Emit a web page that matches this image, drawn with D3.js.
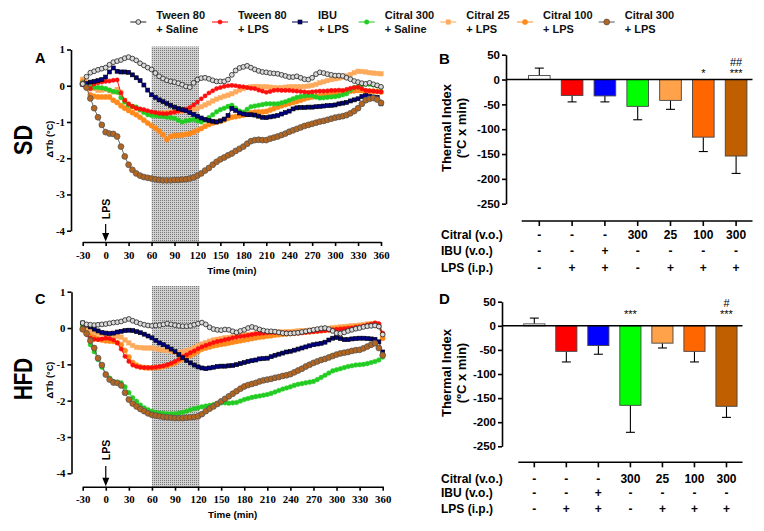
<!DOCTYPE html>
<html><head><meta charset="utf-8">
<script src="https://cdn.jsdelivr.net/npm/d3@7"></script>
<style>body{margin:0;background:#fff}svg{display:block}</style>
</head><body>
<svg id="c" width="764" height="531"></svg>
<script>
// ---------------- DATA ----------------
const times = [-30,-25,-20,-15,-10,-5,0,5,10,15,20,25,30,35,40,45,50,55,60,65,70,75,80,85,90,95,100,105,110,115,120,125,130,135,140,145,150,155,160,165,170,175,180,185,190,195,200,205,210,215,220,225,230,235,240,245,250,255,260,265,270,275,280,285,290,295,300,305,310,315,320,325,330,335,340,345,350,355,360];
const legendLabels = [["Tween 80","+ Saline"],["Tween 80","+ LPS"],["IBU","+ LPS"],["Citral 300","+ Saline"],["Citral 25","+ LPS"],["Citral 100","+ LPS"],["Citral 300","+ LPS"]];
const xTickValues = [-30,0,30,60,90,120,150,180,210,240,270,300,330,360];
const yTickValues = [1,0,-1,-2,-3,-4];
const barTickValues = [50,0,-50,-100,-150,-200,-250];

// SD panel A (ΔTb °C)
const sdSaline = [0.05,0.25,0.36,0.40,0.44,0.47,0.50,0.58,0.65,0.68,0.71,0.76,0.79,0.75,0.70,0.62,0.56,0.50,0.45,0.35,0.26,0.20,0.15,0.12,0.10,0.07,0.03,-0.02,-0.04,0.08,0.17,0.21,0.22,0.19,0.15,0.12,0.12,0.12,0.17,0.30,0.42,0.49,0.52,0.55,0.50,0.45,0.41,0.38,0.37,0.35,0.34,0.33,0.30,0.27,0.24,0.24,0.26,0.22,0.18,0.17,0.22,0.32,0.37,0.35,0.32,0.30,0.28,0.28,0.27,0.22,0.18,0.13,0.10,0.07,0.05,0.08,0.04,0.01,-0.03];
const sdTweenLps = [0.05,-0.05,-0.08,0.05,0.08,0.10,0.12,0.13,0.15,0.16,-0.20,-0.40,-0.50,-0.57,-0.62,-0.64,-0.66,-0.69,-0.72,-0.74,-0.76,-0.77,-0.77,-0.75,-0.73,-0.70,-0.68,-0.65,-0.60,-0.53,-0.45,-0.36,-0.28,-0.20,-0.14,-0.08,-0.05,-0.02,0.00,0.01,0.00,-0.02,-0.03,-0.05,-0.07,-0.08,-0.12,-0.15,-0.18,-0.16,-0.13,-0.12,-0.13,-0.13,-0.13,-0.14,-0.15,-0.16,-0.17,-0.18,-0.17,-0.16,-0.15,-0.15,-0.14,-0.13,-0.13,-0.12,-0.13,-0.10,-0.07,-0.05,-0.04,-0.08,-0.13,-0.14,-0.15,-0.16,-0.17];
const sdIbu = [0.03,0.06,0.10,0.12,0.14,0.17,0.24,0.38,0.49,0.40,0.38,0.38,0.37,0.30,0.22,0.14,0.02,-0.12,-0.25,-0.32,-0.39,-0.44,-0.49,-0.54,-0.59,-0.63,-0.66,-0.69,-0.74,-0.79,-0.84,-0.89,-0.93,-0.96,-0.98,-1.00,-0.97,-0.92,-0.82,-0.63,-0.68,-0.75,-0.78,-0.80,-0.80,-0.81,-0.84,-0.87,-0.88,-0.86,-0.84,-0.82,-0.78,-0.74,-0.70,-0.64,-0.61,-0.60,-0.60,-0.59,-0.59,-0.58,-0.57,-0.56,-0.55,-0.54,-0.53,-0.50,-0.48,-0.46,-0.42,-0.39,-0.36,-0.30,-0.27,-0.29,-0.31,-0.32,-0.50];
const sdCitral300Sal = [0.08,0.02,-0.04,-0.05,-0.05,-0.06,-0.08,-0.12,-0.16,-0.18,-0.33,-0.45,-0.54,-0.57,-0.59,-0.66,-0.74,-0.80,-0.82,-0.83,-0.84,-0.85,-0.87,-0.88,-0.90,-0.95,-1.00,-0.97,-0.95,-0.93,-0.97,-1.00,-0.95,-0.88,-0.80,-0.72,-0.66,-0.62,-0.57,-0.54,-0.62,-0.70,-0.73,-0.65,-0.58,-0.56,-0.54,-0.52,-0.50,-0.50,-0.50,-0.50,-0.47,-0.44,-0.40,-0.36,-0.32,-0.30,-0.28,-0.27,-0.27,-0.31,-0.34,-0.33,-0.32,-0.31,-0.30,-0.28,-0.25,-0.22,-0.12,-0.05,-0.03,0.02,0.05,0.04,0.02,0.00,-0.04];
const sdCitral25 = [0.18,0.10,0.02,-0.08,-0.13,-0.12,-0.10,-0.14,-0.17,-0.10,-0.18,-0.40,-0.52,-0.58,-0.63,-0.67,-0.70,-0.74,-0.76,-0.77,-0.76,-0.75,-0.74,-0.73,-0.72,-0.71,-0.70,-0.68,-0.66,-0.64,-0.62,-0.58,-0.53,-0.48,-0.42,-0.37,-0.33,-0.29,-0.26,-0.22,-0.17,-0.12,-0.08,-0.05,-0.03,-0.02,-0.02,-0.03,-0.03,-0.04,-0.05,-0.06,-0.05,-0.04,-0.03,-0.03,-0.03,-0.03,-0.02,-0.01,0.01,0.04,0.08,0.11,0.14,0.17,0.19,0.21,0.24,0.27,0.31,0.36,0.40,0.39,0.38,0.36,0.35,0.34,0.33];
const sdCitral100 = [0.12,-0.05,-0.25,-0.29,-0.31,-0.31,-0.31,-0.31,-0.40,-0.46,-0.55,-0.62,-0.68,-0.74,-0.80,-0.87,-0.95,-1.03,-1.10,-1.17,-1.25,-1.35,-1.48,-1.40,-1.37,-1.37,-1.36,-1.34,-1.32,-1.28,-1.23,-1.18,-1.12,-1.07,-1.03,-1.00,-0.98,-0.94,-0.90,-0.87,-0.85,-0.83,-0.81,-0.78,-0.75,-0.73,-0.72,-0.72,-0.71,-0.67,-0.63,-0.59,-0.55,-0.52,-0.49,-0.46,-0.43,-0.40,-0.36,-0.33,-0.31,-0.30,-0.28,-0.27,-0.25,-0.23,-0.22,-0.20,-0.18,-0.17,-0.15,-0.14,-0.13,-0.13,-0.14,-0.15,-0.15,-0.16,-0.17];
const sdCitral300Lps = [0.05,-0.05,-0.35,-0.62,-0.87,-1.08,-1.28,-1.32,-1.33,-1.40,-1.68,-1.95,-2.18,-2.32,-2.42,-2.48,-2.52,-2.54,-2.56,-2.58,-2.60,-2.61,-2.61,-2.61,-2.60,-2.60,-2.59,-2.58,-2.56,-2.53,-2.48,-2.42,-2.34,-2.27,-2.18,-2.10,-2.03,-1.98,-1.92,-1.87,-1.80,-1.74,-1.68,-1.60,-1.53,-1.50,-1.49,-1.50,-1.50,-1.46,-1.43,-1.40,-1.36,-1.32,-1.27,-1.23,-1.19,-1.15,-1.11,-1.08,-1.05,-1.02,-0.99,-0.97,-0.94,-0.91,-0.88,-0.86,-0.84,-0.81,-0.76,-0.70,-0.62,-0.50,-0.40,-0.36,-0.34,-0.38,-0.47];

// HFD panel C (ΔTb °C)
const hfdSaline = [0.14,0.10,0.09,0.08,0.09,0.10,0.11,0.13,0.15,0.16,0.18,0.22,0.25,0.20,0.16,0.12,0.09,0.07,0.06,0.07,0.08,0.10,0.12,0.10,0.08,0.06,0.05,0.05,0.06,0.09,0.12,0.15,0.10,0.02,-0.03,-0.05,-0.06,-0.04,-0.05,-0.09,-0.12,-0.08,-0.05,0.00,0.03,0.00,-0.04,-0.07,-0.09,-0.09,-0.10,-0.12,-0.14,-0.15,-0.15,-0.14,-0.13,-0.11,-0.09,-0.07,-0.05,-0.03,-0.01,0.00,-0.03,-0.08,-0.14,-0.15,-0.12,-0.08,-0.05,-0.02,0.00,0.03,0.05,0.06,0.07,0.04,-0.18];
const hfdTweenLps = [0.00,-0.18,-0.28,-0.31,-0.32,-0.30,-0.28,-0.29,-0.33,-0.41,-0.58,-0.78,-0.92,-1.02,-1.06,-1.08,-1.09,-1.09,-1.09,-1.08,-1.06,-1.04,-1.01,-0.97,-0.92,-0.86,-0.79,-0.74,-0.68,-0.63,-0.57,-0.52,-0.48,-0.44,-0.40,-0.37,-0.35,-0.32,-0.30,-0.27,-0.25,-0.23,-0.22,-0.20,-0.18,-0.16,-0.15,-0.14,-0.13,-0.12,-0.12,-0.12,-0.13,-0.13,-0.13,-0.14,-0.14,-0.13,-0.12,-0.11,-0.10,-0.09,-0.08,-0.07,-0.06,-0.05,-0.04,-0.03,-0.02,-0.01,0.00,0.02,0.03,0.05,0.08,0.11,0.14,0.12,-0.14];
const hfdIbu = [0.14,0.08,0.03,-0.03,-0.08,-0.12,-0.14,-0.15,-0.14,-0.11,-0.09,-0.07,-0.06,-0.07,-0.10,-0.13,-0.17,-0.22,-0.27,-0.34,-0.41,-0.46,-0.52,-0.58,-0.65,-0.73,-0.82,-0.89,-0.96,-1.02,-1.07,-1.10,-1.12,-1.10,-1.08,-1.06,-1.05,-1.05,-1.04,-1.03,-1.01,-0.98,-0.95,-0.92,-0.90,-0.88,-0.85,-0.84,-0.83,-0.79,-0.75,-0.72,-0.69,-0.66,-0.64,-0.61,-0.58,-0.55,-0.52,-0.49,-0.46,-0.44,-0.42,-0.39,-0.33,-0.28,-0.26,-0.29,-0.32,-0.32,-0.30,-0.29,-0.28,-0.28,-0.29,-0.30,-0.31,-0.38,-0.66];
const hfdCitral300Sal = [0.05,-0.15,-0.46,-0.65,-0.87,-1.08,-1.28,-1.38,-1.47,-1.50,-1.51,-1.62,-1.78,-1.92,-2.02,-2.12,-2.20,-2.25,-2.29,-2.32,-2.34,-2.35,-2.36,-2.36,-2.36,-2.34,-2.32,-2.29,-2.25,-2.22,-2.20,-2.17,-2.15,-2.13,-2.11,-2.08,-2.06,-2.06,-2.07,-2.06,-2.05,-2.01,-1.97,-1.94,-1.91,-1.89,-1.87,-1.85,-1.83,-1.80,-1.76,-1.72,-1.68,-1.65,-1.62,-1.58,-1.55,-1.53,-1.51,-1.49,-1.47,-1.42,-1.36,-1.30,-1.24,-1.18,-1.15,-1.12,-1.09,-1.06,-1.04,-1.02,-1.01,-1.00,-0.98,-0.95,-0.92,-0.88,-0.80];
const hfdCitral25 = [0.00,-0.05,-0.09,-0.11,-0.14,-0.16,-0.18,-0.20,-0.22,-0.23,-0.25,-0.33,-0.41,-0.48,-0.53,-0.54,-0.55,-0.55,-0.55,-0.57,-0.60,-0.61,-0.62,-0.64,-0.66,-0.67,-0.66,-0.63,-0.59,-0.54,-0.49,-0.44,-0.40,-0.36,-0.33,-0.31,-0.29,-0.27,-0.26,-0.24,-0.22,-0.20,-0.19,-0.18,-0.17,-0.16,-0.15,-0.14,-0.14,-0.13,-0.12,-0.11,-0.11,-0.10,-0.10,-0.09,-0.08,-0.07,-0.07,-0.06,-0.06,-0.05,-0.04,-0.02,-0.01,0.01,0.02,0.03,0.04,0.05,0.06,0.07,0.08,0.09,0.11,0.12,0.13,0.08,-0.20];
const hfdCitral100 = [-0.05,-0.15,-0.22,-0.26,-0.30,-0.33,-0.35,-0.36,-0.37,-0.40,-0.46,-0.62,-0.80,-0.95,-1.03,-1.07,-1.09,-1.10,-1.10,-1.09,-1.08,-1.06,-1.03,-1.00,-0.96,-0.90,-0.85,-0.80,-0.76,-0.70,-0.64,-0.58,-0.55,-0.52,-0.49,-0.47,-0.45,-0.43,-0.41,-0.39,-0.37,-0.35,-0.33,-0.31,-0.29,-0.27,-0.25,-0.24,-0.22,-0.21,-0.19,-0.18,-0.17,-0.16,-0.15,-0.14,-0.13,-0.12,-0.11,-0.10,-0.09,-0.08,-0.07,-0.06,-0.05,-0.04,-0.03,-0.02,-0.01,0.00,0.01,0.03,0.04,0.06,0.08,0.09,0.10,0.05,-0.28];
const hfdCitral300Lps = [-0.03,-0.15,-0.35,-0.55,-0.83,-1.02,-1.28,-1.42,-1.50,-1.51,-1.58,-1.78,-1.97,-2.08,-2.16,-2.23,-2.29,-2.35,-2.39,-2.41,-2.43,-2.45,-2.46,-2.47,-2.48,-2.48,-2.48,-2.47,-2.46,-2.45,-2.43,-2.37,-2.29,-2.22,-2.16,-2.09,-2.02,-1.95,-1.88,-1.81,-1.74,-1.67,-1.61,-1.57,-1.54,-1.51,-1.47,-1.44,-1.42,-1.40,-1.37,-1.35,-1.32,-1.30,-1.27,-1.22,-1.17,-1.12,-1.06,-1.01,-0.96,-0.92,-0.88,-0.85,-0.81,-0.77,-0.73,-0.70,-0.68,-0.66,-0.63,-0.61,-0.60,-0.56,-0.51,-0.46,-0.42,-0.55,-0.75];

// Thermal index bars
const barMeansSD = [8,-32,-33,-54,-42,-116,-154];
const barErrSD = [15,13,12,27,18,29,35];
const barMeansHFD = [4,-53,-41,-165,-36,-53,-167];
const barErrHFD = [12,22,18,56,10,22,23];
const rowLabels = ["Citral (v.o.)","IBU (v.o.)","LPS (i.p.)"];
const citralRow = ["-","-","-","300","25","100","300"];
const ibuRow = ["-","-","+","-","-","-","-"];
const lpsRow = ["-","+","+","-","+","+","+"];
const starsSD = ["","","","","","*","***"];
const hashSD = ["","","","","","","##"];
const starsHFD = ["","","","***","","","***"];
const hashHFD = ["","","","","","","#"];

// ---------------- STYLE ----------------
const SANS = "'Liberation Sans', Arial, sans-serif";
const SERIF = "'Liberation Serif', 'Times New Roman', serif";
const styles = [
  {line:'#222', marker:'circle', r:2.4, fill:'#d9d9d9', stroke:'#222', sw:0.8},
  {line:'#ff0000', marker:'circle', r:2.1, fill:'#ff1010', stroke:'#ff0000', sw:0.5},
  {line:'#000060', marker:'square', r:2.0, fill:'#000080', stroke:'#000', sw:0.6},
  {line:'#20c020', marker:'circle', r:2.3, fill:'#22cc22', stroke:'#22cc22', sw:0.5},
  {line:'#fca85a', marker:'square', r:2.2, fill:'#fdaa5c', stroke:'#fdaa5c', sw:0.5},
  {line:'#ff8a1c', marker:'circle', r:2.6, fill:'#ff8a1c', stroke:'#ff8a1c', sw:0.5},
  {line:'#555', marker:'circle', r:2.9, fill:'#b5651d', stroke:'#555', sw:0.8}
];
const barColors = ['#ffffff','#ff0000','#0000ff','#00ff00','#ffa24a','#ff6600','#c05f00'];
const drawOrder = [4,5,3,1,2,6,0];

const svg = d3.select('#c');
const defs = svg.append('defs');
const pat = defs.append('pattern').attr('id','dots').attr('width',2).attr('height',2).attr('patternUnits','userSpaceOnUse');
pat.append('rect').attr('width',2).attr('height',2).attr('fill','#cfcfcf');
pat.append('rect').attr('width',1).attr('height',1).attr('fill','#7a7a7a');

function marker(g, s, cx, cy){
  if(s.marker==='circle'){
    g.append('circle').attr('cx',cx).attr('cy',cy).attr('r',s.r).attr('fill',s.fill).attr('stroke',s.stroke).attr('stroke-width',s.sw);
  } else {
    g.append('rect').attr('x',cx-s.r).attr('y',cy-s.r).attr('width',2*s.r).attr('height',2*s.r).attr('fill',s.fill).attr('stroke',s.stroke).attr('stroke-width',s.sw);
  }
}

// ---------------- LEGEND ----------------
const legX = [138.3,220,300,366.7,448.3,525,606.7];
legendLabels.forEach((lab,i)=>{
  const g = svg.append('g');
  const s = styles[i];
  g.append('line').attr('x1',legX[i]-8).attr('x2',legX[i]+8).attr('y1',22).attr('y2',22).attr('stroke',s.line).attr('stroke-width',1);
  marker(g, s, legX[i], 22);
  const t = g.append('text').attr('font-family',SANS).attr('font-weight','bold').attr('font-size',11).attr('fill','#111');
  t.append('tspan').attr('x',legX[i]+18).attr('y',19).text(lab[0]);
  t.append('tspan').attr('x',legX[i]+18).attr('y',33).text(lab[1]);
});

// ---------------- LINE PANELS ----------------
function linePanel(c){
  const x = d3.scaleLinear().domain([-30,360]).range([c.x0,c.x1]);
  const y = d3.scaleLinear().domain([-4,1]).range([c.yBot,c.yTop]);
  const g = svg.append('g');
  g.append('rect').attr('x',x(60)).attr('width',x(122)-x(60)).attr('y',c.shadeTop).attr('height',c.axisY-c.shadeTop).attr('fill','url(#dots)');
  const ya = g.append('g').attr('transform',`translate(${c.yAxisX},0)`)
    .call(d3.axisLeft(y).tickValues(yTickValues).tickSize(4).tickSizeOuter(0).tickFormat(d=>String(d)));
  const xa = g.append('g').attr('transform',`translate(0,${c.axisY})`)
    .call(d3.axisBottom(x).tickValues(xTickValues).tickSize(4).tickSizeOuter(0).tickFormat(d=>String(d)));
  [ya,xa].forEach(a=>{
    a.selectAll('path,line').attr('stroke','#000').attr('stroke-width',1.6);
    a.selectAll('text').attr('font-family',SERIF).attr('font-weight','bold').attr('font-size',10.8).attr('fill','#000');
  });
  ya.selectAll('text').attr('x',-6);
  xa.selectAll('text').attr('y',c.tickLabDy);
  // LPS arrow
  const ax = x(0);
  g.append('line').attr('x1',ax).attr('x2',ax).attr('y1',c.arrTop).attr('y2',c.axisY-6).attr('stroke','#000').attr('stroke-width',1.2);
  g.append('path').attr('d',`M${ax-3.5},${c.axisY-9}L${ax+3.5},${c.axisY-9}L${ax},${c.axisY-0.5}Z`).attr('fill','#000');
  g.append('text').attr('transform',`translate(${ax+4},${c.lpsY}) rotate(-90)`).attr('text-anchor','middle')
    .attr('font-family',SANS).attr('font-weight','bold').attr('font-size',10.5).text('LPS');
  // series
  const line = d3.line().x((d,i)=>x(times[i])).y(d=>y(d));
  drawOrder.forEach(k=>{
    const s = styles[k]; const data = c.series[k];
    const sg = g.append('g');
    sg.append('path').attr('d',line(data)).attr('fill','none').attr('stroke',s.line).attr('stroke-width',0.9);
    data.forEach((v,i)=>marker(sg,s,x(times[i]),y(v)));
  });
  // labels
  g.append('text').attr('x',(c.x0+c.x1)/2).attr('y',c.titleY).attr('text-anchor','middle')
    .attr('font-family',SANS).attr('font-weight','bold').attr('font-size',9.8).text('Time (min)');
  g.append('text').attr('transform',`translate(${c.ylabX},${c.ylabY}) rotate(-90)`).attr('text-anchor','middle')
    .attr('font-family',SANS).attr('font-weight','bold').attr('font-size',9.2).text('ΔTb (°C)');
  g.append('text').attr('transform',`translate(${c.grpX},${c.grpY}) rotate(-90)`).attr('text-anchor','middle')
    .attr('font-family',SANS).attr('font-weight','bold').attr('font-size',26)
    .attr('textLength',c.grpLen).attr('lengthAdjust','spacingAndGlyphs').text(c.grp);
  g.append('text').attr('x',c.letX).attr('y',c.letY).attr('font-family',SANS).attr('font-weight','bold').attr('font-size',14.5).text(c.letter);
}

linePanel({x0:82.7,x1:381,yTop:49.5,yBot:230.7,yAxisX:71,axisY:242,shadeTop:46.5,tickLabDy:9,
  arrTop:224,lpsY:209,titleY:274,ylabX:53,ylabY:139,grpX:32,grpY:140,grpLen:30,grp:'SD',letX:35,letY:63,letter:'A',
  series:[sdSaline,sdTweenLps,sdIbu,sdCitral300Sal,sdCitral25,sdCitral100,sdCitral300Lps]});
linePanel({x0:82.7,x1:382.7,yTop:291.7,yBot:473.3,yAxisX:71.5,axisY:486.7,shadeTop:286,tickLabDy:9,
  arrTop:466,lpsY:450,titleY:518,ylabX:53,ylabY:380,grpX:32,grpY:379,grpLen:42,grp:'HFD',letX:35,letY:304,letter:'C',
  series:[hfdSaline,hfdTweenLps,hfdIbu,hfdCitral300Sal,hfdCitral25,hfdCitral100,hfdCitral300Lps]});

// ---------------- BAR PANELS ----------------
function barPanel(c){
  const x = d3.scaleBand().domain(d3.range(7)).range([c.bx0,c.bx1]).padding(0);
  const y = d3.scaleLinear().domain([-250,50]).range([c.yBot,c.yTop]);
  const g = svg.append('g');
  const bw = x.bandwidth()*0.66;
  c.means.forEach((m,i)=>{
    const cx = x(i)+x.bandwidth()/2;
    const e = m>=0 ? m + c.errs[i] : m - c.errs[i];
    g.append('line').attr('x1',cx).attr('x2',cx).attr('y1',y(m)).attr('y2',y(e)).attr('stroke','#000').attr('stroke-width',1.1);
    g.append('line').attr('x1',cx-4.5).attr('x2',cx+4.5).attr('y1',y(e)).attr('y2',y(e)).attr('stroke','#000').attr('stroke-width',1.1);
    g.append('rect').attr('x',cx-bw/2).attr('width',bw).attr('y',Math.min(y(m),y(0))).attr('height',Math.abs(y(m)-y(0)))
      .attr('fill',barColors[i]).attr('stroke','#444').attr('stroke-width',0.9);
    if(c.stars[i]) g.append('text').attr('x',cx).attr('y',c.starY).attr('text-anchor','middle').attr('font-family',SANS).attr('font-size',11).text(c.stars[i]);
    if(c.hash[i]) g.append('text').attr('x',cx).attr('y',c.hashY).attr('text-anchor','middle').attr('font-family',SANS).attr('font-size',11).text(c.hash[i]);
  });
  g.append('line').attr('x1',c.yAxisX).attr('x2',c.bx1).attr('y1',y(0)).attr('y2',y(0)).attr('stroke','#000').attr('stroke-width',1.6);
  const ya = g.append('g').attr('transform',`translate(${c.yAxisX},0)`)
    .call(d3.axisLeft(y).tickValues(barTickValues).tickSize(4).tickSizeOuter(0).tickFormat(d=>String(d)));
  ya.selectAll('path,line').attr('stroke','#000').attr('stroke-width',1.6);
  ya.selectAll('text').attr('font-family',SANS).attr('font-weight','bold').attr('font-size',11.5).attr('fill','#000').attr('x',-6);
  // y label
  g.append('text').attr('transform',`translate(${c.ylabX},${c.ylabY}) rotate(-90)`).attr('text-anchor','middle')
    .attr('font-family',SANS).attr('font-weight','bold').attr('font-size',13).text('Thermal Index');
  g.append('text').attr('transform',`translate(${c.ylabX+15},${c.ylabY}) rotate(-90)`).attr('text-anchor','middle')
    .attr('font-family',SANS).attr('font-weight','bold').attr('font-size',13).text('(ºC x min)');
  // treatment table
  g.append('line').attr('x1',c.sepX0).attr('x2',c.bx1).attr('y1',c.sepY).attr('y2',c.sepY).attr('stroke','#000').attr('stroke-width',1.6);
  const rows = [citralRow,ibuRow,lpsRow];
  rows.forEach((r,ri)=>{
    g.append('text').attr('x',441).attr('y',c.rowY[ri]).attr('dy','0.35em').attr('font-family',SANS).attr('font-weight','bold').attr('font-size',12).text(rowLabels[ri]);
    r.forEach((v,i)=>{
      const cx = x(i)+x.bandwidth()/2;
      g.append('text').attr('x',cx).attr('y',c.rowY[ri]).attr('dy','0.35em').attr('text-anchor','middle')
        .attr('font-family',SANS).attr('font-weight','bold').attr('font-size',12).text(v);
    });
  });
  d3.range(7).forEach(i=>{
    const cx = x(i)+x.bandwidth()/2;
    g.append('line').attr('x1',cx).attr('x2',cx).attr('y1',c.sepY).attr('y2',c.sepY+5).attr('stroke','#000').attr('stroke-width',1.6);
  });
  g.append('text').attr('x',439).attr('y',c.letY).attr('font-family',SANS).attr('font-weight','bold').attr('font-size',15).text(c.letter);
}

barPanel({bx0:522.9,bx1:752.5,yTop:54.7,yBot:203.7,yAxisX:506,means:barMeansSD,errs:barErrSD,stars:starsSD,hash:hashSD,
  starY:77,hashY:66,ylabX:451,ylabY:128,sepX0:521.7,sepY:221,rowY:[235,251,267.5],letY:64,letter:'B'});
barPanel({bx0:518.3,bx1:742.5,yTop:301.7,yBot:446.3,yAxisX:502,means:barMeansHFD,errs:barErrHFD,stars:starsHFD,hash:hashHFD,
  starY:318,hashY:307,ylabX:451,ylabY:373,sepX0:518.3,sepY:462.3,rowY:[478.3,492.5,508.3],letY:304,letter:'D'});
</script>
</body></html>
